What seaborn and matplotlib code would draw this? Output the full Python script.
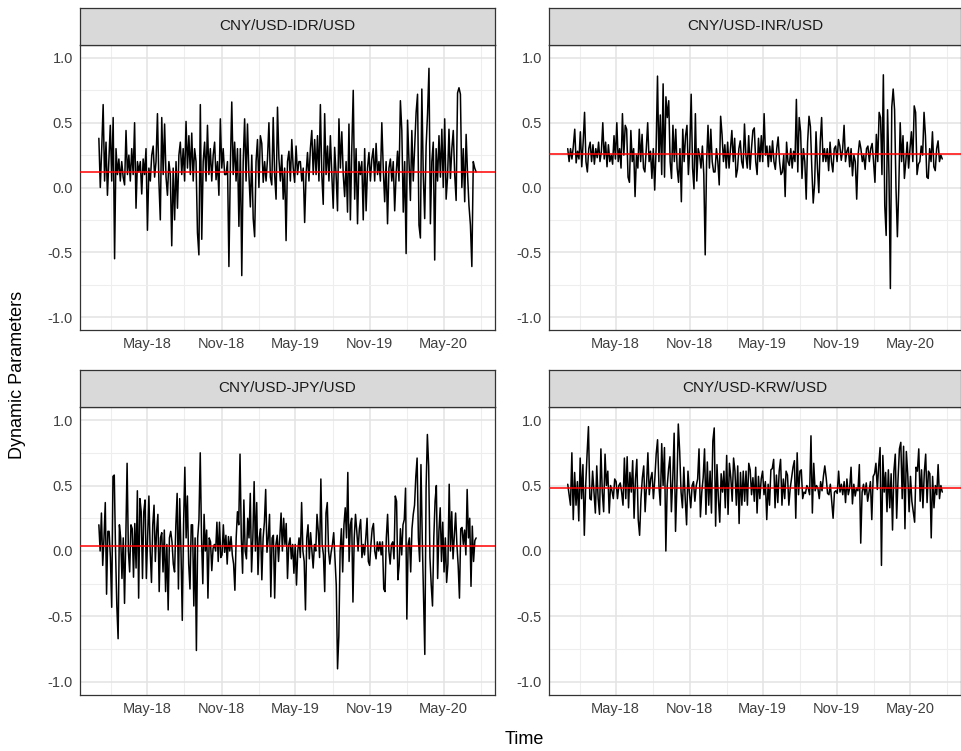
import numpy as np
import pandas as pd
import matplotlib
matplotlib.use("Agg")
import matplotlib.pyplot as plt
import matplotlib.dates as mdates
import seaborn as sns

sns.set_theme(style="white")
plt.rcParams['font.family'] = ['Liberation Sans', 'DejaVu Sans']

panel_titles = ["CNY/USD-IDR/USD", "CNY/USD-INR/USD", "CNY/USD-JPY/USD", "CNY/USD-KRW/USD"]
static_levels = [0.12, 0.26, 0.04, 0.48]
start_date = "2018-01-02"
end_date = "2020-07-20"
x_tick_labels = ["May-18", "Nov-18", "May-19", "Nov-19", "May-20"]
y_ticks = [-1.0, -0.5, 0.0, 0.5, 1.0]

idr = [0.38, 0.0, 0.3, 0.64, 0.05, 0.35, -0.06, 0.2, 0.48, 0.05, 0.54, -0.55, 0.3, 0.1, 0.22, 0.05,
       0.2, 0.08, 0.02, 0.44, 0.1, 0.25, 0.05, 0.3, 0.1, 0.5, -0.16, 0.2, 0.12, 0.2, -0.05, 0.22,
       0.1, 0.3, -0.33, 0.15, 0.05, 0.25, 0.32, 0.08, 0.2, 0.57, 0.05, -0.25, 0.54, 0.1, 0.49, 0.08,
       -0.06, 0.2, 0.1, -0.45, 0.15, -0.25, 0.2, -0.16, 0.25, 0.35, 0.1, 0.3, 0.05, 0.51, 0.15, 0.4,
       0.1, 0.42, 0.05, 0.3, 0.2, -0.35, -0.52, 0.64, -0.4, 0.2, 0.35, 0.05, 0.48, 0.1, 0.3, 0.05,
       0.25, 0.35, 0.06, 0.2, -0.06, 0.53, 0.15, 0.3, 0.1,
       0.1, 0.2, -0.61, 0.15, 0.66, 0.1, 0.35, 0.05, 0.3, -0.3, 0.3, -0.68, 0.2, 0.53, 0.05, 0.49,
       0.1, -0.15, 0.25, -0.24, -0.38, 0.2, 0.37, 0.0, 0.4, 0.34, 0.04, 0.2, 0.05, 0.22, 0.5, 0.08,
       0.02, 0.54, 0.1, -0.09, 0.62, 0.22, 0.05, 0.25, -0.09, 0.15, -0.41, 0.2, 0.28, 0.05, 0.37,
       0.15, 0.04, 0.32, 0.1, 0.2, 0.2, 0.05, 0.15, -0.27, 0.1, 0.27, 0.05, 0.3, 0.44, 0.1, 0.37,
       0.1, 0.4, 0.05, 0.64, 0.1, -0.13, 0.57, 0.1, 0.32, 0.05, 0.4, 0.1, -0.16, 0.31, 0.1, -0.18,
       0.53, 0.15, 0.43, 0.1, -0.07, 0.2, -0.19, 0.49, -0.25, 0.3, 0.75,
       -0.09, 0.3, -0.28, 0.2, 0.1, 0.2, -0.25, 0.3, -0.18, 0.15, 0.27, 0.05, 0.22, 0.3, 0.05, 0.34,
       0.1, 0.2, 0.05, 0.5, 0.15, -0.11, 0.2, -0.28, 0.15, 0.22, 0.05, 0.2, -0.18, 0.1, 0.28, 0.05,
       0.67, 0.44, -0.19, 0.2, -0.51, 0.52, 0.22, -0.1, 0.44, 0.05, 0.32, 0.58, 0.72, -0.29, -0.39,
       0.76, 0.1, -0.24, 0.32, 0.57, 0.92, -0.28, 0.2, 0.35, -0.56, 0.3, 0.05, 0.4, 0.08, 0.45, 0.0,
       0.53, -0.09, 0.08, 0.45, 0.07, 0.3, 0.44, 0.1, -0.1, 0.73, 0.77, 0.72, 0.0, 0.3, -0.11, 0.41,
       0.1, -0.14, -0.29, -0.61, 0.2, 0.15, 0.12]

inr = [0.3, 0.2, 0.3, 0.22, 0.32, 0.45, 0.19, 0.28, 0.22, 0.43, 0.16, 0.35, 0.58, 0.2, 0.12, 0.3,
       0.35, 0.2, 0.33, 0.18, 0.3, 0.23, 0.35, 0.2, 0.28, 0.5, 0.22, 0.35, 0.16, 0.33, 0.2, 0.25,
       0.18, 0.4, 0.22, 0.5, 0.2, 0.3, 0.15, 0.57, 0.25, 0.48, 0.45, 0.08, 0.04, 0.44, 0.2, 0.3,
       -0.07, 0.25, 0.15, 0.45, 0.2, 0.41, 0.15, 0.12, 0.3, 0.5, 0.2, 0.28, 0.07, 0.3, -0.02, 0.3,
       0.86, 0.2, 0.56, 0.1, 0.8, 0.08, 0.7, 0.54, 0.67, 0.2, 0.07, 0.48, 0.2, 0.45, 0.15, 0.04,
       0.3, -0.11, 0.45, 0.2, 0.4,
       0.48, 0.1, 0.3, 0.72, 0.15, -0.01, 0.57, 0.05, 0.3, 0.25, 0.15, 0.32, 0.1, -0.52, 0.2, 0.48,
       0.15, 0.45, 0.2, 0.12, 0.12, 0.3, 0.2, 0.02, 0.55, 0.41, 0.2, 0.33, 0.15, 0.35, 0.15, 0.3,
       0.44, 0.2, 0.38, 0.08, 0.14, 0.3, 0.36, 0.2, 0.15, 0.49, 0.25, 0.15, 0.4, 0.14, 0.3, 0.44,
       0.46, 0.2, 0.1, 0.38, 0.2, 0.4, 0.2, 0.57, 0.25, 0.32, 0.16, 0.32, 0.2, 0.36, 0.2, 0.14,
       0.3, 0.39, 0.2, 0.1, 0.12, 0.25, -0.07, 0.35, 0.2, 0.17, 0.3, 0.15, 0.28, 0.2, 0.68, 0.12,
       0.54, 0.43, 0.07, 0.3, 0.2, -0.09, 0.35, 0.55, 0.47, 0.15, -0.12,
       0.03, 0.43, 0.15, -0.04, 0.35, 0.54, 0.2, 0.3, 0.2, 0.3, 0.13, 0.35, 0.2, 0.12, 0.3, 0.32,
       0.2, 0.37, 0.32, 0.21, 0.3, 0.48, 0.2, 0.28, 0.31, 0.16, 0.3, 0.09, 0.25, 0.2, -0.09, 0.25,
       0.36, 0.3, 0.2, 0.25, 0.14, 0.3, 0.32, 0.2, 0.3, 0.34, 0.2, 0.04, 0.41, 0.2, 0.58, 0.54,
       0.1, 0.87, -0.14, -0.37, 0.6, 0.1, -0.78, 0.62, 0.76, 0.6, 0.0, -0.38, 0.0, 0.5, 0.2, 0.4,
       0.07, 0.2, 0.35, 0.15, 0.3, 0.43, 0.2, 0.63, 0.58, 0.1, 0.18, 0.2, 0.32, 0.25, 0.58, 0.4,
       0.08, 0.07, 0.3, 0.2, 0.43, 0.16, 0.13, 0.3, 0.36, 0.2, 0.25, 0.22]

jpy = [0.2, 0.0, 0.29, -0.11, 0.1, 0.37, -0.33, 0.15, 0.15, -0.05, -0.43, 0.57, 0.58, 0.0, -0.42,
       -0.67, 0.2, 0.1, -0.21, 0.1, -0.4, 0.1, 0.67, 0.0, -0.16, 0.2, 0.17, -0.2, 0.21, -0.13, 0.46,
       -0.36, 0.4, 0.3, -0.21, 0.3, 0.39, -0.21, 0.1, 0.42, 0.0, -0.24, 0.2, 0.35, -0.08, 0.15, 0.28,
       -0.31, 0.1, 0.14, -0.16, 0.16, -0.31, 0.05, -0.45, 0.1, 0.15, 0.07, -0.1, -0.16, 0.2, 0.44,
       -0.29, 0.4, 0.0, -0.53, 0.2, 0.64, 0.1, 0.42, -0.1, -0.29, 0.2, 0.2, -0.42, 0.1, -0.76, 0.1,
       0.24, 0.75, 0.1, -0.25, 0.28, 0.0, 0.16, -0.36, 0.1, 0.07, -0.15, 0.02, 0.05, 0.0, 0.22,
       -0.08, 0.22, -0.05, -0.03,
       0.2, -0.01, 0.12, -0.1, 0.11, 0.0, 0.11, -0.03, -0.1, -0.3, 0.1, 0.3, 0.2, 0.74, 0.1, -0.17,
       0.39, 0.0, -0.06, 0.25, 0.1, 0.44, -0.16, 0.1, 0.53, 0.0, 0.37, -0.18, 0.1, 0.17, -0.22, 0.1,
       0.22, 0.47, -0.01, 0.1, 0.28, -0.35, 0.1, 0.12, -0.36, 0.05, 0.12, -0.08, 0.1, 0.29, 0.0,
       0.25, 0.05, 0.21, -0.21, 0.05, 0.1, -0.06, 0.05, -0.17, 0.05, -0.26, 0.0, 0.1, -0.05, 0.37,
       0.0, -0.08, -0.45, 0.1, 0.2, -0.06, 0.14, 0.0, -0.13, 0.05, 0.0, 0.28, 0.15, -0.05, 0.55,
       0.05, -0.03, -0.31, 0.29, 0.37, 0.0, -0.1, -0.01, 0.05, 0.14, -0.06, -0.26, -0.9, -0.65, 0.0,
       0.17, -0.16, 0.2, 0.33, 0.1, 0.6, -0.08, 0.2, 0.25, -0.39, 0.1, 0.28, 0.15,
       0.0, 0.17, 0.24, -0.05, 0.05, -0.03, 0.1, 0.25, -0.08, -0.11, 0.05, 0.17, 0.21, 0.0, -0.06,
       0.07, 0.0, 0.07, -0.03, 0.07, -0.29, -0.31, 0.1, 0.28, 0.0, -0.1, 0.05, 0.07, -0.06, 0.42,
       0.38, -0.22, -0.11, 0.17, -0.03, 0.2, 0.24, 0.48, -0.52, 0.05, 0.1, -0.16, 0.17, 0.28, 0.35,
       0.57, 0.71, 0.1, -0.08, 0.66, 0.1, -0.34, -0.79, 0.48, 0.89, 0.65, -0.05, -0.26, -0.42, 0.1,
       0.38, 0.5, -0.21, 0.15, 0.33, -0.08, 0.22, -0.16, 0.1, -0.24, -0.1, 0.51, 0.0, 0.3, -0.06,
       0.12, 0.29, 0.05, -0.11, -0.36, 0.17, 0.18, 0.05, 0.16, -0.03, 0.47, 0.1, 0.25, -0.27, 0.19,
       -0.08, 0.08, 0.1]

krw = [0.51, 0.43, 0.35, 0.75, 0.24, 0.6, 0.35, 0.53, 0.23, 0.71, 0.4, 0.66, 0.12, 0.5, 0.74,
       0.95, 0.4, 0.39, 0.61, 0.45, 0.29, 0.65, 0.4, 0.28, 0.78, 0.45, 0.3, 0.74, 0.5, 0.61, 0.29,
       0.5, 0.46, 0.4, 0.55, 0.53, 0.4, 0.5, 0.52, 0.45, 0.35, 0.71, 0.4, 0.72, 0.33, 0.6, 0.45,
       0.69, 0.25, 0.55, 0.7, 0.24, 0.12, 0.4, 0.56, 0.65, 0.3, 0.5, 0.75, 0.43, 0.55, 0.6, 0.4,
       0.55, 0.74, 0.85, 0.5, 0.35, 0.82, 0.5, 0.79, 0.0, 0.5, 0.63, 0.72, 0.3, 0.55, 0.9, 0.15,
       0.5, 0.97, 0.76, 0.45, 0.33, 0.64, 0.4, 0.2, 0.61, 0.45, 0.33, 0.5, 0.53, 0.38, 0.5, 0.55,
       0.78, 0.26, 0.45, 0.56,
       0.78, 0.28, 0.68, 0.35, 0.61, 0.29, 0.84, 0.94, 0.19, 0.66, 0.4, 0.22, 0.59, 0.45, 0.61,
       0.33, 0.73, 0.28, 0.67, 0.56, 0.38, 0.71, 0.61, 0.35, 0.65, 0.21, 0.6, 0.35, 0.61, 0.38,
       0.61, 0.35, 0.67, 0.62, 0.43, 0.56, 0.38, 0.64, 0.29, 0.57, 0.4, 0.55, 0.61, 0.43, 0.53,
       0.24, 0.51, 0.35, 0.62, 0.63, 0.7, 0.33, 0.58, 0.37, 0.61, 0.7, 0.35, 0.55, 0.4, 0.61, 0.58,
       0.35, 0.48, 0.56, 0.64, 0.69, 0.25, 0.75, 0.43, 0.61, 0.62, 0.4, 0.45, 0.44, 0.5, 0.48, 0.43,
       0.88, 0.29, 0.67, 0.46, 0.5, 0.48, 0.4, 0.53, 0.46, 0.57, 0.65,
       0.56, 0.44, 0.43, 0.51, 0.38, 0.25, 0.45, 0.46, 0.44, 0.61, 0.45, 0.51, 0.43, 0.53, 0.37,
       0.55, 0.43, 0.48, 0.64, 0.36, 0.51, 0.42, 0.48, 0.46, 0.66, 0.06, 0.45, 0.51, 0.43, 0.52,
       0.38, 0.45, 0.53, 0.24, 0.57, 0.59, 0.67, 0.47, 0.65, 0.79, -0.11, 0.73, 0.45, 0.6, 0.3,
       0.62, 0.33, 0.59, 0.16, 0.61, 0.74, 0.25, 0.55, 0.78, 0.83, 0.4, 0.8, 0.17, 0.76, 0.59, 0.3,
       0.57, 0.38, 0.3, 0.22, 0.64, 0.61, 0.78, 0.38, 0.62, 0.33, 0.6, 0.74, 0.37, 0.61, 0.59, 0.1,
       0.57, 0.33, 0.5, 0.43, 0.66, 0.4, 0.5, 0.45]

series = [idr, inr, jpy, krw]

W, H = 962, 751
fig = plt.figure(figsize=(W / 100, H / 100), dpi=100)

# panel boxes in pixels: (left, right, top, bottom)
boxes = [(80, 495, 45, 330), (549, 961, 45, 330), (80, 495, 407, 695), (549, 961, 407, 695)]
strip_h = 37

t0 = pd.Timestamp(start_date)
t1 = pd.Timestamp(end_date)
span = t1 - t0
xlim = (t0 - span * 0.05, t1 + span * 0.05)

grey20 = "#333333"
for i, (l, r, t, b) in enumerate(boxes):
    ax = fig.add_axes([l / W, 1 - b / H, (r - l) / W, (b - t) / H])
    vals = series[i]
    df = pd.DataFrame({"Time": pd.date_range(start_date, end_date, periods=len(vals)),
                       "value": vals})
    ax.set_axisbelow(True)
    sns.lineplot(data=df, x="Time", y="value", ax=ax, color="black", linewidth=1.1,
                 estimator=None, zorder=3)
    ax.axhline(static_levels[i], color="#FF0000", linewidth=1.1, zorder=4)
    ax.set_xlim(xlim)
    ax.set_ylim(-1.1, 1.1)
    ax.set_yticks(y_ticks)
    ax.set_yticklabels([f"{v:.1f}" for v in y_ticks])
    ax.set_yticks([-0.75, -0.25, 0.25, 0.75], minor=True)
    ax.xaxis.set_major_locator(mdates.MonthLocator(bymonth=[5, 11]))
    ax.xaxis.set_major_formatter(mdates.DateFormatter("%b-%y"))
    ax.xaxis.set_minor_locator(mdates.MonthLocator(bymonth=[2, 8]))
    ax.set_xlabel("")
    ax.set_ylabel("")
    ax.grid(True, which="major", color="#E3E3E3", linewidth=1.1)
    ax.grid(True, which="minor", color="#EEEEEE", linewidth=0.8)
    ax.tick_params(axis="both", which="major", length=3, width=0.8, color=grey20,
                   labelsize=10.5, labelcolor="#404040", pad=2)
    ax.tick_params(axis="both", which="minor", length=0)
    for sp in ax.spines.values():
        sp.set_color(grey20)
        sp.set_linewidth(0.9)
    # strip
    sax = fig.add_axes([l / W, 1 - t / H, (r - l) / W, strip_h / H])
    sax.set_facecolor("#D9D9D9")
    sax.set_xticks([])
    sax.set_yticks([])
    for sp in sax.spines.values():
        sp.set_color(grey20)
        sp.set_linewidth(0.9)
    sax.text(0.5, 0.5, panel_titles[i], ha="center", va="center", fontsize=11,
             color="#1A1A1A", transform=sax.transAxes)

fig.text(18 / W, 1 - 375 / H, "Dynamic Parameters", rotation=90, ha="center", va="center",
         fontsize=13, color="black")
fig.text(524 / W, 1 - 740 / H, "Time", ha="center", va="center", fontsize=13, color="black")

fig.savefig("out.png", dpi=100, facecolor="white")
